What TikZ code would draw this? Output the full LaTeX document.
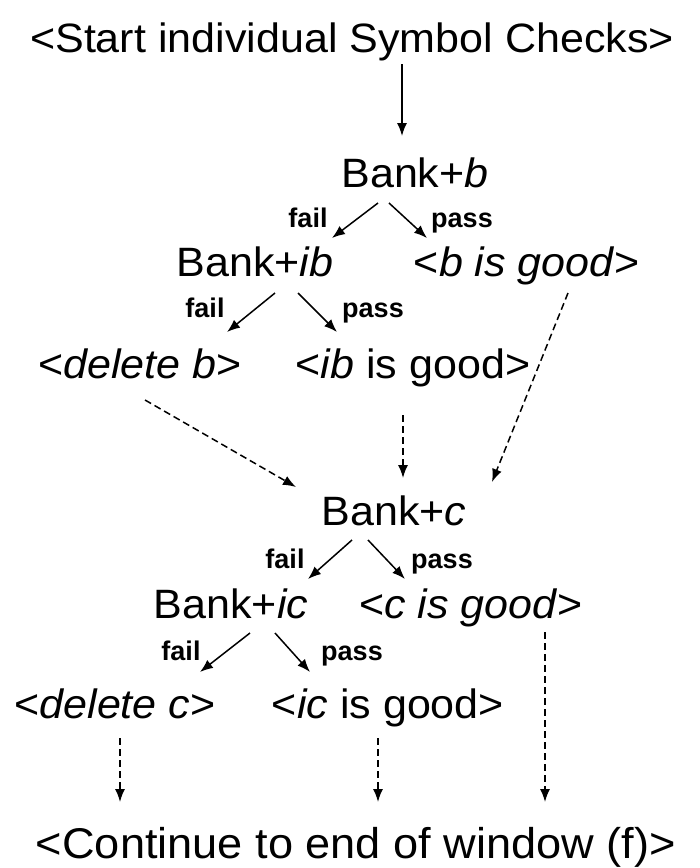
\documentclass[tikz,border=0pt]{standalone}
\usepackage{fontspec}
\setmainfont{Liberation Sans}
\newfontfamily\widefont{Liberation Sans}[FakeStretch=1.05]
\usetikzlibrary{arrows.meta,calc}
\begin{document}
\begin{tikzpicture}[x=1pt,y=-1pt,
  big/.style={anchor=base,inner sep=0pt,font=\widefont\fontsize{41}{48}\selectfont},
  tag/.style={anchor=base,inner sep=0pt,font=\fontsize{27}{32}\selectfont\bfseries},
  arr/.style={line width=1.5pt,-{Latex[length=13pt,width=10pt]}},
  darr/.style={line width=1.5pt,dash pattern=on 7pt off 4pt,-{Latex[length=13pt,width=10pt]}}]
\useasboundingbox (0,0) rectangle (700,868);

% nodes
\node[big] (title) at (352,52)  {<Start individual Symbol Checks>};
\node[big] (bb)    at (415,187) {Bank+\textit{b}};
\node[big] (bib)   at (255,276) {Bank+\textit{ib}};
\node[big] (bg)    at (527,276) {<\textit{b is good}>};
\node[big] (db)    at (140,378) {<\textit{delete b}>};
\node[big] (ibg)   at (413,378) {<\textit{ib} is good>};
\node[big] (bc)    at (394,525) {Bank+\textit{c}};
\node[big] (bic)   at (231,618) {Bank+\textit{ic}};
\node[big] (cg)    at (471,618) {<\textit{c is good}>};
\node[big] (dc)    at (115,718) {<\textit{delete c}>};
\node[big] (icg)   at (388,718) {<\textit{ic} is good>};
\node[big,font=\widefont\fontsize{43}{50}\selectfont] (cont) at (356,858) {<Continue to end of window (f)>};

% branch labels
\node[tag] (f1) at (308,227) {fail};
\node[tag] (p1) at (462,227) {pass};
\node[tag] (f2) at (205,317) {fail};
\node[tag] (p2) at (373,317) {pass};
\node[tag] (f3) at (285,568) {fail};
\node[tag] (p3) at (442,568) {pass};
\node[tag] (f4) at (181,660) {fail};
\node[tag] (p4) at (352,660) {pass};

% start arrow
\draw[arr] ($(title.base)+(50,12)$) -- ($(bb.base)+(-13,-51)$);

% first symbol
\draw[arr] ($(bb.base)+(-37,16)$) -- ($(bib.base)+(77,-38)$);
\draw[arr] ($(bb.base)+(-26,16)$) -- ($(bg.base)+(-100,-38)$);
\draw[arr] ($(bib.base)+(20,17)$) -- ($(db.base)+(87,-46)$);
\draw[arr] ($(bib.base)+(43,17)$) -- ($(ibg.base)+(-76,-46)$);

\draw[darr] ($(bg.base)+(41,17)$)   -- ($(bc.base)+(98,-43)$);
\draw[darr] ($(db.base)+(5,22)$)    -- ($(bc.base)+(-98,-38)$);
\draw[darr] ($(ibg.base)+(-10,37)$) -- ($(bc.base)+(9,-47)$);

% second symbol
\draw[arr] ($(bc.base)+(-42,15)$) -- ($(bic.base)+(77,-39)$);
\draw[arr] ($(bc.base)+(-26,15)$) -- ($(cg.base)+(-66,-39)$);
\draw[arr] ($(bic.base)+(19,15)$) -- ($(dc.base)+(85,-46)$);
\draw[arr] ($(bic.base)+(44,15)$) -- ($(icg.base)+(-78,-46)$);

\draw[darr] ($(dc.base)+(5,20)$)    -- ($(cont.base)+(-236,-56)$);
\draw[darr] ($(icg.base)+(-10,20)$) -- ($(cont.base)+(22,-56)$);
\draw[darr] ($(cg.base)+(74,14)$)   -- ($(cont.base)+(189,-56)$);
\end{tikzpicture}
\end{document}
